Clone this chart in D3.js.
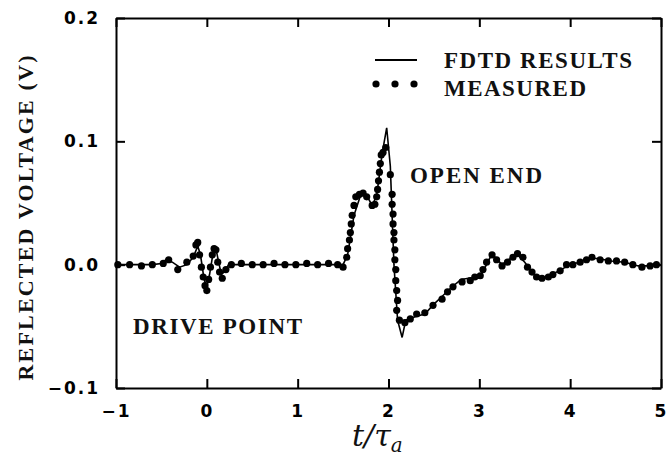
<!DOCTYPE html>
<html>
<head>
<meta charset="UTF-8">
<script src="https://d3js.org/d3.v7.min.js"></script>
<style>
  body { margin: 0; background: #fff; }
  .tick text { font-family: "DejaVu Sans", sans-serif; font-size: 17px; letter-spacing: 2px; fill: #000; }
</style>
</head>
<body>
<svg id="chart" width="668" height="466"></svg>
<script>
// axis ticks
const xTicks = [-1, 0, 1, 2, 3, 4, 5];
const yTicks = [-0.1, 0.0, 0.1, 0.2];

// FDTD results (solid line)
const fdtdT = [-1, -0.6, -0.5, -0.45, -0.38, -0.3, -0.22, -0.15, -0.1, -0.07, -0.03, 0.0, 0.03, 0.07, 0.1, 0.13, 0.16, 0.19, 0.24, 0.4,
  1.0, 1.5, 1.55, 1.62, 1.7, 1.76, 1.82, 1.87, 1.93, 1.98, 2.02, 2.06, 2.1, 2.15, 2.19, 2.3, 2.4, 2.5, 2.6, 2.7, 2.8, 2.88, 3.0,
  3.05, 3.12, 3.16, 3.25, 3.32, 3.42, 3.5, 3.6, 3.7, 3.8, 3.9, 4.0, 4.1, 4.2, 4.3, 4.45, 4.6, 4.75, 4.9, 5.0];
const fdtdV = [0, 0, 0.001, 0.004, 0.002, -0.002, 0.0, 0.006, 0.015, 0.008, -0.012, -0.018, -0.008, 0.01, 0.013, 0.002, -0.008, -0.006, 0.0, 0.0,
  0.0, 0.0, 0.008, 0.04, 0.058, 0.056, 0.048, 0.056, 0.09, 0.111, 0.08, 0.0, -0.045, -0.059, -0.045, -0.042, -0.04, -0.032, -0.025, -0.018, -0.012, -0.011, -0.011,
  -0.004, 0.006, 0.007, 0.0, 0.004, 0.008, 0.002, -0.008, -0.011, -0.008, -0.004, 0.0, 0.002, 0.005, 0.005, 0.003, 0.002, -0.001, -0.001, 0.0];

// measured (dots)
const measT = [-0.98, -0.85, -0.72, -0.6, -0.48, -0.42, -0.32, -0.22, -0.15, -0.12, -0.1, -0.08, -0.06, -0.04, -0.02, 0.0,
  0.02, 0.04, 0.06, 0.08, 0.1, 0.12, 0.14, 0.17, 0.21, 0.27, 0.38, 0.5, 0.62, 0.74, 0.86, 0.98, 1.1, 1.22, 1.34, 1.44,
  1.5, 1.54, 1.55, 1.57, 1.58, 1.59, 1.6, 1.62, 1.64, 1.68, 1.72, 1.76, 1.82, 1.85, 1.87, 1.88, 1.89, 1.9, 1.91, 1.92, 1.94, 1.97,
  2.02, 2.04, 2.04, 2.05, 2.05, 2.06, 2.06, 2.07, 2.07, 2.08, 2.08, 2.09, 2.1, 2.09, 2.12, 2.18, 2.24, 2.31, 2.4, 2.49, 2.59, 2.65,
  2.71, 2.81, 2.9, 2.95, 3.01, 3.04, 3.08, 3.14, 3.19, 3.25, 3.31, 3.37, 3.42, 3.48, 3.53, 3.58, 3.63, 3.69, 3.76, 3.81, 3.89,
  3.96, 4.03, 4.11, 4.18, 4.24, 4.33, 4.42, 4.51, 4.6, 4.69, 4.79, 4.88, 4.95];
const measV = [0.0, 0.0, -0.001, 0.0, 0.001, 0.004, -0.004, 0.002, 0.007, 0.016, 0.018, 0.008, -0.002, -0.01, -0.017, -0.021,
  -0.012, -0.002, 0.008, 0.013, 0.012, 0.002, -0.006, -0.011, -0.004, 0.0, 0.001, 0.0, 0.0, 0.001, 0.0, 0.0, 0.001, 0.0, 0.001, 0.0,
  -0.002, 0.006, 0.013, 0.02, 0.026, 0.033, 0.04, 0.048, 0.055, 0.057, 0.058, 0.055, 0.048, 0.049, 0.055, 0.061, 0.068, 0.075, 0.082, 0.089, 0.091, 0.095,
  0.073, 0.057, 0.049, 0.041, 0.033, 0.026, 0.02, 0.012, 0.004, -0.004, -0.013, -0.021, -0.029, -0.037, -0.045, -0.047, -0.044, -0.040, -0.039, -0.033, -0.028, -0.022,
  -0.018, -0.014, -0.013, -0.010, -0.009, -0.004, 0.002, 0.008, 0.004, -0.001, 0.002, 0.006, 0.009, 0.006, -0.002, -0.006, -0.010, -0.011, -0.010, -0.008, -0.005,
  0.0, 0.0, 0.002, 0.004, 0.006, 0.004, 0.003, 0.003, 0.002, 0.0, -0.002, -0.001, 0.0];

const svg = d3.select("#chart");
const x = d3.scaleLinear().domain([-1, 5]).range([116, 661]);
const y = d3.scaleLinear().domain([-0.1, 0.2]).range([388, 18]);

// axes, ticks pointing inward
svg.append("g").attr("transform", `translate(0,${y(-0.1)})`)
  .call(d3.axisBottom(x).tickValues(xTicks).tickSizeInner(-9).tickSizeOuter(0).tickPadding(17).tickFormat(d3.format("d")));
svg.append("g").attr("transform", `translate(0,${y(0.2)})`)
  .call(d3.axisTop(x).tickValues(xTicks).tickSizeInner(-9).tickSizeOuter(0).tickFormat(""));
svg.append("g").attr("transform", `translate(${x(-1)},0)`)
  .call(d3.axisLeft(y).tickValues(yTicks).tickSizeInner(-9).tickSizeOuter(0).tickPadding(16).tickFormat(d3.format(".1f")));
svg.append("g").attr("transform", `translate(${x(5)},0)`)
  .call(d3.axisRight(y).tickValues(yTicks).tickSizeInner(-9).tickSizeOuter(0).tickFormat(""));
svg.selectAll(".domain").attr("stroke", "#000").attr("stroke-width", 2);
svg.selectAll(".tick line").attr("stroke", "#000").attr("stroke-width", 2);
svg.selectAll(".tick text").style("font-weight", "bold");

// FDTD line
const fdtd = fdtdT.map((t, i) => [t, fdtdV[i]]);
svg.append("path")
  .datum(fdtd)
  .attr("fill", "none")
  .attr("stroke", "#000")
  .attr("stroke-width", 1.6)
  .attr("d", d3.line().x(d => x(d[0])).y(d => y(d[1])));

// measured dots
const meas = measT.map((t, i) => [t, measV[i]]);
svg.selectAll(".dot")
  .data(meas)
  .enter().append("circle")
  .attr("class", "dot")
  .attr("cx", d => x(d[0]))
  .attr("cy", d => y(d[1]))
  .attr("r", 3.6)
  .attr("fill", "#000");

function serifText(xp, yp, size, len, str) {
  return svg.append("text").attr("x", xp).attr("y", yp)
    .style("font-family", "'Liberation Serif', 'Times New Roman', serif")
    .style("font-weight", "bold")
    .style("font-size", size + "px")
    .attr("fill", "#111")
    .attr("textLength", len)
    .text(str);
}

// legend
svg.append("line").attr("x1", 375).attr("x2", 417).attr("y1", 60).attr("y2", 60)
  .attr("stroke", "#000").attr("stroke-width", 1.8);
[376, 395, 414].forEach(cx => svg.append("circle").attr("cx", cx).attr("cy", 84).attr("r", 3.6).attr("fill", "#000"));
serifText(444, 68, 23, 188, "FDTD RESULTS");
serifText(444, 96, 23, 142, "MEASURED");

// annotations
serifText(410, 183, 23, 132, "OPEN END");
serifText(133, 334, 23, 169, "DRIVE POINT");

// axis titles
serifText(0, 0, 22, 325, "REFLECTED VOLTAGE (V)")
  .attr("transform", "translate(33,218) rotate(-90)")
  .attr("text-anchor", "middle");
const xt = svg.append("text").attr("x", 352).attr("y", 446)
  .style("font-family", "'DejaVu Serif', serif").style("font-style", "italic")
  .style("font-size", "30px").attr("fill", "#111");
xt.append("tspan").text("t/τ");
xt.append("tspan").style("font-size", "20px").attr("dy", 6).text("a");
</script>
</body>
</html>
